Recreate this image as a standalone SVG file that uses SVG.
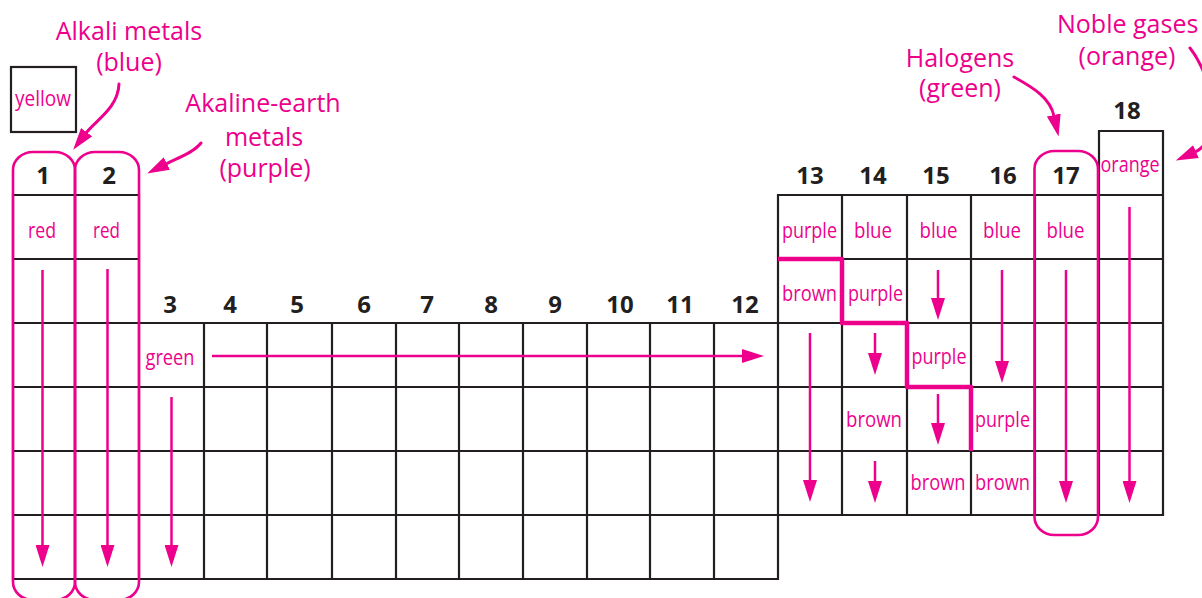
<svg xmlns="http://www.w3.org/2000/svg" width="1202" height="598" viewBox="0 0 1202 598">
<style>
.grid{stroke:#231f20;stroke-width:2.2;fill:none;stroke-linecap:square}
.cap{stroke:#ec008c;stroke-width:2.6;fill:none}
.arr{stroke:#ec008c;stroke-width:2.5;fill:none}
.curve{stroke:#ec008c;stroke-width:3;fill:none;stroke-linecap:round}
.stair{stroke:#ec008c;stroke-width:4.5;fill:none;stroke-linejoin:round}
.num{font-family:"Open Sans","Liberation Sans",sans-serif;font-weight:700;font-size:24px;fill:#231f20;text-anchor:middle}
.lbl{font-family:"Open Sans","Liberation Sans",sans-serif;font-size:25px;fill:#ec008c;text-anchor:middle}
.cell{font-family:"Open Sans","Liberation Sans",sans-serif;font-size:21px;fill:#ec008c;text-anchor:middle}
</style>
<defs>
<marker id="ah" markerUnits="userSpaceOnUse" markerWidth="22" markerHeight="14" viewBox="0 0 22 14" refX="1" refY="7" orient="auto">
<path d="M0,0 L22,7 L0,14 Z" fill="#ec008c"/>
</marker>
</defs>
<rect width="1202" height="598" fill="#ffffff"/>

<g id="grid">
<path class="grid" d="M13,195H139M778,195H1163M13,259H139M778,259H1163M13,323H1163M13,387H1163M13,451H1163M13,515H1163M13,579H778M1099,131H1163
M13,195V579M75,195V579M139,195V579
M204,323V579M267,323V579M332,323V579M396,323V579M459,323V579M523,323V579M587,323V579M650,323V579M714,323V579
M778,195V579M842,195V515M907,195V515M971,195V515M1035,195V515M1099,131V515M1163,131V515"/>
</g>

<g id="hydrogen-box">
<rect x="11" y="67" width="65" height="65" fill="none" stroke="#231f20" stroke-width="2.2"/>
<text class="cell" x="43" y="106" textLength="56" lengthAdjust="spacingAndGlyphs">yellow</text>
</g>

<g id="group-capsules">
<rect id="cap-1" class="cap" x="13" y="152" width="62" height="448" rx="20" ry="18"/>
<rect id="cap-2" class="cap" x="75" y="152" width="64" height="448" rx="20" ry="18"/>
<rect id="cap-17" class="cap" x="1034.5" y="151" width="63.5" height="384" rx="20" ry="18"/>
</g>

<g id="group-numbers">
<text class="num" x="43" y="184">1</text>
<text class="num" x="109" y="184">2</text>
<text class="num" x="170" y="313">3</text>
<text class="num" x="230" y="313">4</text>
<text class="num" x="297" y="313">5</text>
<text class="num" x="364" y="313">6</text>
<text class="num" x="427" y="313">7</text>
<text class="num" x="491" y="313">8</text>
<text class="num" x="555" y="313">9</text>
<text class="num" x="620" y="313">10</text>
<text class="num" x="680" y="313">11</text>
<text class="num" x="745" y="313">12</text>
<text class="num" x="810" y="184">13</text>
<text class="num" x="873" y="184">14</text>
<text class="num" x="936" y="184">15</text>
<text class="num" x="1003" y="184">16</text>
<text class="num" x="1066" y="184">17</text>
<text class="num" x="1127" y="119">18</text>
</g>

<g id="cell-labels">
<text class="cell" x="42" y="238" textLength="28" lengthAdjust="spacingAndGlyphs">red</text>
<text class="cell" x="106.5" y="238" textLength="27" lengthAdjust="spacingAndGlyphs">red</text>
<text class="cell" x="170" y="365" textLength="49" lengthAdjust="spacingAndGlyphs">green</text>
<text class="cell" x="809.5" y="238" textLength="55" lengthAdjust="spacingAndGlyphs">purple</text>
<text class="cell" x="873" y="238" textLength="38" lengthAdjust="spacingAndGlyphs">blue</text>
<text class="cell" x="938.5" y="238" textLength="38" lengthAdjust="spacingAndGlyphs">blue</text>
<text class="cell" x="1002" y="238" textLength="38" lengthAdjust="spacingAndGlyphs">blue</text>
<text class="cell" x="1065.5" y="238" textLength="38" lengthAdjust="spacingAndGlyphs">blue</text>
<text class="cell" x="1130" y="172" textLength="59" lengthAdjust="spacingAndGlyphs">orange</text>
<text class="cell" x="809.5" y="301" textLength="55" lengthAdjust="spacingAndGlyphs">brown</text>
<text class="cell" x="875.5" y="301" textLength="55" lengthAdjust="spacingAndGlyphs">purple</text>
<text class="cell" x="939" y="364" textLength="55" lengthAdjust="spacingAndGlyphs">purple</text>
<text class="cell" x="874" y="427" textLength="56" lengthAdjust="spacingAndGlyphs">brown</text>
<text class="cell" x="1002.5" y="427" textLength="55" lengthAdjust="spacingAndGlyphs">purple</text>
<text class="cell" x="938" y="490" textLength="55" lengthAdjust="spacingAndGlyphs">brown</text>
<text class="cell" x="1002.5" y="490" textLength="55" lengthAdjust="spacingAndGlyphs">brown</text>
</g>

<g id="label-alkali">
<text class="lbl" x="129" y="40">Alkali metals</text>
<text class="lbl" x="129" y="71">(blue)</text>
</g>
<g id="label-alkaline-earth">
<text class="lbl" x="263" y="112">Akaline-earth</text>
<text class="lbl" x="264" y="146">metals</text>
<text class="lbl" x="265" y="177">(purple)</text>
</g>
<g id="label-halogens">
<text class="lbl" x="960" y="67">Halogens</text>
<text class="lbl" x="960" y="97">(green)</text>
</g>
<g id="label-noble">
<text class="lbl" x="1057" y="33" text-anchor="start" style="text-anchor:start">Noble gases</text>
<text class="lbl" x="1127" y="65">(orange)</text>
</g>

<g id="connectors">
<path class="stair" d="M778,259H842V323H907V387H971V451"/>
<path class="arr" marker-end="url(#ah)" d="M42.5,270V546"/>
<path class="arr" marker-end="url(#ah)" d="M107.5,269V546"/>
<path class="arr" marker-end="url(#ah)" d="M171.5,397V546"/>
<path class="arr" marker-end="url(#ah)" d="M212,356H743"/>
<path class="arr" marker-end="url(#ah)" d="M810,333V481"/>
<path class="arr" marker-end="url(#ah)" d="M875,333V354"/>
<path class="arr" marker-end="url(#ah)" d="M875,461V482"/>
<path class="arr" marker-end="url(#ah)" d="M938,270V299"/>
<path class="arr" marker-end="url(#ah)" d="M938,394V424"/>
<path class="arr" marker-end="url(#ah)" d="M1002,270V362"/>
<path class="arr" marker-end="url(#ah)" d="M1066,270V482"/>
<path class="arr" marker-end="url(#ah)" d="M1129.5,207V482"/>
<path class="curve" marker-end="url(#ah)" d="M119,84C118,108 96,120 86,133"/>
<path class="curve" marker-end="url(#ah)" d="M201,143C194,152 180,157 166,164"/>
<path class="curve" marker-end="url(#ah)" d="M1014,77C1034,88 1050,98 1054,116"/>
<path class="curve" marker-end="url(#ah)" d="M1190,48C1215,80 1222,140 1195,152"/>
</g>
</svg>
